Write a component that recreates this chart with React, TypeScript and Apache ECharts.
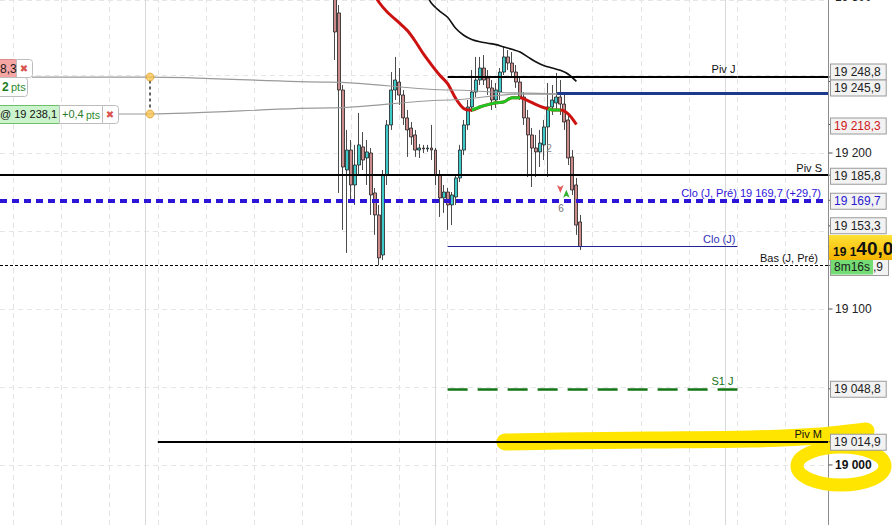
import { useEffect, useRef } from 'react';
import * as echarts from 'echarts';

// ---- axes extents (bar index on x, price on y) ----
const X_MIN = -3.2;
const X_MAX = 202.5;
const Y_MIN = 18961.5;
const Y_MAX = 19298.1;

// ---- candles (bar index starts at FIRST_BAR) ----
const FIRST_BAR = 80;
const opens = [
  19310.9, 19289.8, 19240.4, 19189.1, 19201.9, 19179.5, 19192.3, 19203.9, 19196.8, 19200.0,
  19174.4, 19160.3, 19134.6, 19185.9, 19218.0, 19240.4, 19245.5, 19237.2, 19222.5, 19216.0,
  19211.6, 19201.9, 19203.2, 19202.6, 19203.2, 19201.9, 19185.9, 19171.2, 19175.0, 19166.7,
  19171.8, 19184.0, 19201.9, 19218.0, 19229.5, 19239.1, 19246.8, 19254.5, 19248.1, 19241.7,
  19234.0, 19239.1, 19251.9, 19261.6, 19257.7, 19251.9, 19245.5, 19235.9, 19222.5, 19211.6,
  19203.2, 19200.7, 19205.2, 19216.7, 19229.5, 19232.1, 19235.9, 19231.4, 19221.2, 19197.5,
  19179.5, 19155.8,
];
const closes = [
  19277.6, 19240.4, 19191.0, 19201.9, 19179.5, 19192.3, 19205.2, 19195.5, 19200.7, 19173.1,
  19160.3, 19132.7, 19185.9, 19218.0, 19240.4, 19246.8, 19237.2, 19222.5, 19214.8, 19210.3,
  19201.9, 19203.2, 19202.6, 19203.2, 19201.9, 19185.9, 19171.2, 19175.0, 19166.7, 19173.1,
  19184.0, 19201.9, 19218.0, 19229.5, 19239.1, 19246.8, 19254.5, 19246.8, 19241.7, 19234.0,
  19240.4, 19251.9, 19261.6, 19257.7, 19251.9, 19245.5, 19235.9, 19222.5, 19211.6, 19203.2,
  19200.7, 19206.4, 19216.7, 19229.5, 19234.0, 19235.9, 19231.4, 19219.9, 19196.8, 19176.3,
  19153.8, 19140.0,
];
const lows = [
  19259.6, 19174.4, 19150.7, 19135.9, 19169.9, 19166.7, 19185.9, 19189.1, 19179.5, 19160.3,
  19147.5, 19127.9, 19131.4, 19179.5, 19214.8, 19234.0, 19230.8, 19218.0, 19197.5, 19205.2,
  19197.5, 19196.8, 19200.0, 19200.7, 19195.5, 19179.5, 19159.0, 19161.6, 19150.7, 19153.8,
  19166.7, 19181.4, 19198.7, 19214.8, 19226.3, 19235.9, 19243.6, 19243.6, 19237.2, 19227.6,
  19228.9, 19234.0, 19250.0, 19253.2, 19248.1, 19241.7, 19234.0, 19218.0, 19184.6, 19178.2,
  19184.6, 19191.0, 19195.5, 19184.6, 19224.4, 19227.6, 19224.4, 19214.8, 19192.3, 19173.1,
  19147.5, 19137.8,
];
const highs = [
  19317.3, 19294.9, 19243.6, 19214.8, 19208.4, 19205.2, 19225.7, 19213.5, 19208.4, 19203.2,
  19177.6, 19166.7, 19189.1, 19221.2, 19251.9, 19261.6, 19254.5, 19240.4, 19227.6, 19219.9,
  19214.8, 19205.8, 19205.2, 19205.2, 19218.0, 19203.2, 19189.1, 19179.5, 19177.6, 19175.0,
  19185.9, 19205.2, 19221.2, 19234.0, 19253.2, 19261.6, 19261.6, 19262.8, 19253.2, 19246.8,
  19244.9, 19254.5, 19268.0, 19266.0, 19264.8, 19256.4, 19248.1, 19239.1, 19227.6, 19216.0,
  19211.6, 19214.8, 19221.2, 19244.9, 19243.6, 19251.3, 19246.8, 19237.2, 19224.4, 19201.9,
  19184.0, 19160.3,
];

// ---- moving averages ----
const redMaX = [89, 91, 93, 96, 98, 100, 102, 104, 106, 108, 110, 112, 114, 116, 118, 120, 122, 124, 126, 128, 130, 132, 133, 134, 136, 138, 140];
const redMaY = [19305.0, 19296.5, 19290.4, 19283.4, 19278.5, 19271.5, 19263.5, 19256.5, 19250.0, 19244.5, 19235.0, 19228.5, 19227.5, 19229.5, 19231.0, 19232.2, 19232.8, 19235.5, 19235.5, 19233.5, 19231.0, 19229.0, 19228.4, 19227.6, 19227.6, 19225.0, 19218.3];
const greenRanges = [[114, 126], [133, 136]];
const blackMaX = [102, 104, 106, 108, 110, 112, 114, 116, 118, 120, 122, 124, 126, 128, 130, 132, 134, 136, 138, 140];
const blackMaY = [19305.0, 19296.0, 19291.0, 19287.0, 19280.0, 19275.5, 19272.8, 19271.3, 19270.4, 19269.5, 19268.0, 19266.5, 19264.8, 19261.5, 19258.3, 19256.0, 19254.5, 19253.0, 19250.5, 19245.9];

// ---- order lines ----
const orderUpperX = [4.75, 34.07, 78.8, 108.6, 125.2, 135.2];
const orderUpperY = [19248.7, 19248.7, 19245.5, 19240.4, 19238.5, 19237.8];
const orderLowerX = [26.1, 34.07, 78.8, 108.6, 125.2, 135.2];
const orderLowerY = [19225.0, 19225.0, 19228.9, 19234.0, 19237.8, 19237.8];
const orderPrice = 19238.1;
const orderLineFrom = 135.2;

// ---- levels ----
const levelNames = ['Piv J', 'Piv S', 'Clo (J, Pré)', 'Clo (J)', 'Bas (J, Pré)', 'S1 J', 'Piv M'];
const levelValues = [19248.8, 19185.8, 19169.7, 19140.0, 19127.9, 19048.8, 19014.9];
const levelFrom = [108, X_MIN, X_MIN, 108, X_MIN, 108, 36];
const levelTo = [X_MAX, X_MAX, X_MAX, 180, X_MAX, 180, X_MAX];
const levelLabelAt = [180, X_MAX, X_MAX, 180, X_MAX, 180, X_MAX];

// ---- axis tags ----
const tagValues = [19248.8, 19245.9, 19218.3, 19185.8, 19169.7, 19153.3, 19048.8, 19014.9];
const axisValues = [19000, 19100, 19200];
const topAxisValue = 19300;
const lastPrice = 19140.0;
const timerText = '8m16s';

// ---- vertical grid ----
const hourLines = [0, 12, 24, 36, 48, 60, 72, 84, 96, 108, 120, 132, 144, 156, 168, 180, 192];
const dayLines = [33, 105, 177];

const FONT = '"Liberation Sans", Arial, sans-serif';

function fmt(v: number, dec = 1): string {
  const s = Math.abs(v).toFixed(dec);
  const [i, d] = s.split('.');
  const ii = i.replace(/\B(?=(\d{3})+(?!\d))/g, ' ');
  return (v < 0 ? '-' : '') + (d ? ii + ',' + d : ii);
}

const levelStyles: any[] = [
  { line: { color: '#000', width: 2, type: 'solid' }, color: '#111', gap: 2 },
  { line: { color: '#000', width: 2, type: 'solid' }, color: '#111', gap: 6 },
  { line: { color: '#2d14d9', width: 4, type: [7, 5] }, color: '#2d14d9', gap: 7 },
  { line: { color: '#22229a', width: 1, type: 'solid' }, color: '#3030b8', gap: 2 },
  { line: { color: '#000', width: 1, type: [3, 2] }, color: '#111', gap: 10 },
  { line: { color: '#157515', width: 2.5, type: [20, 10] }, color: '#157515', gap: 4 },
  { line: { color: '#000', width: 2, type: 'solid' }, color: '#111', gap: 6 },
];
const tagColors = ['#222', '#222', '#d01818', '#222', '#2a1ad0', '#222', '#222', '#222'];
const tagDy = [-5, 6.5, 1.5, 1, 1, 0, 0.5, 0.5];

export default function App() {
  const ref = useRef<HTMLDivElement>(null);
  useEffect(() => {
    if (!ref.current) return;
    const chart = echarts.init(ref.current, undefined, { renderer: 'svg' });

    const candleData = opens.map((o, i) => [FIRST_BAR + i, o, closes[i], lows[i], highs[i]]);
    const redData = redMaX.map((x, i) => [x, redMaY[i]]);
    const greenSeries = greenRanges.map(([a, b]) => ({
      type: 'line',
      data: redData.filter((p) => p[0] >= a && p[0] <= b),
      smooth: 0.3,
      showSymbol: false,
      lineStyle: { color: '#22c422', width: 3 },
      z: 4,
      silent: true,
    }));

    const levelLines: any[] = [];
    levelNames.forEach((name, i) => {
      const st = levelStyles[i];
      const v = levelValues[i];
      const text = i === 2 ? `${name} ${fmt(v)} (+${fmt(v - lastPrice)})` : name;
      const at = levelLabelAt[i];
      levelLines.push([
        {
          coord: [levelFrom[i], v],
          lineStyle: st.line,
          label: {
            show: true,
            position: 'insideEndTop',
            formatter: text,
            color: st.color,
            fontSize: 11,
            fontFamily: FONT,
            distance: [st.gap, 2],
          },
        },
        { coord: [at, v] },
      ]);
      if (at < levelTo[i]) {
        levelLines.push([
          { coord: [at, v], lineStyle: st.line, label: { show: false } },
          { coord: [levelTo[i], v] },
        ]);
      }
    });
    levelLines.push([
      { coord: [orderLineFrom, orderPrice], lineStyle: { color: '#1c3a8c', width: 3, type: 'solid' }, label: { show: false } },
      { coord: [X_MAX, orderPrice] },
    ]);

    // small tick marks on the right of the price axis
    const tickValues = [...axisValues, ...tagValues, levelValues[4], lastPrice];
    const tickPoints: any[] = tickValues.map((v) => ({
      coord: [X_MAX, v],
      symbol: 'rect',
      symbolSize: [4, 1],
      symbolOffset: [2.5, 0],
      itemStyle: { color: '#555' },
      label: { show: false },
    }));

    const tagPoints: any[] = tagValues.map((v, i) => ({
      coord: [X_MAX, v],
      symbol: 'rect',
      symbolSize: 0,
      label: {
        show: true,
        position: 'right',
        distance: 3,
        offset: [0, tagDy[i]],
        formatter: fmt(v),
        color: tagColors[i],
        fontSize: 12,
        fontFamily: FONT,
        backgroundColor: '#f2f2f2',
        borderColor: '#9a9a9a',
        borderWidth: 1,
        padding: [1, 5, 0, 3],
        lineHeight: 14,
      },
    }));
    // timer box laid over the "Bas (J, Pré)" value tag (only its last digits stay visible)
    const basText = fmt(levelValues[4]);
    tagPoints.push({
      coord: [X_MAX, levelValues[4]],
      symbol: 'rect',
      symbolSize: 0,
      label: {
        show: true,
        position: 'right',
        distance: 3,
        offset: [0, 1.5],
        formatter: `{g|${timerText}}{n|${basText.slice(-2)}}`,
        backgroundColor: '#f2f2f2',
        borderColor: '#9a9a9a',
        borderWidth: 1,
        padding: [0, 5, 0, 0],
        rich: {
          g: { backgroundColor: '#74dc74', color: '#1a1a1a', fontSize: 12, fontFamily: FONT, padding: [2, 3, 1, 3], lineHeight: 16 },
          n: { color: '#222', fontSize: 12, fontFamily: FONT, lineHeight: 16 },
        },
      },
    });
    tagPoints.push({
      coord: [X_MAX, lastPrice],
      symbol: 'rect',
      symbolSize: 0,
      label: {
        show: true,
        position: 'right',
        distance: 1,
        offset: [0, 1],
        formatter: () => {
          const s = fmt(lastPrice);
          return `{a|${s.slice(0, 4)}}{b|${s.slice(4)}}`;
        },
        backgroundColor: new echarts.graphic.LinearGradient(0, 0, 0, 1, [
          { offset: 0, color: '#ffe135' },
          { offset: 1, color: '#f4b400' },
        ]),
        padding: [3, 8, 2, 4],
        rich: {
          a: { fontSize: 12, fontWeight: 'bold', color: '#111', fontFamily: FONT, verticalAlign: 'bottom', lineHeight: 20 },
          b: { fontSize: 19, fontWeight: 'bold', color: '#111', fontFamily: FONT, lineHeight: 20 },
        },
      },
    });
    // partially visible top axis value
    tagPoints.push({
      coord: [X_MAX, Y_MAX],
      symbol: 'rect',
      symbolSize: 0,
      label: {
        show: true,
        position: 'right',
        distance: 7,
        offset: [0, -3],
        formatter: fmt(topAxisValue, 0),
        color: '#222',
        fontSize: 12,
        fontFamily: FONT,
      },
    });
    // trade markers
    tagPoints.push({ coord: [136, 19174.4], symbol: 'arrow', symbolSize: [5, 8], symbolRotate: 180, itemStyle: { color: '#e35b5b' }, label: { show: false } });
    tagPoints.push({ coord: [137.5, 19176.5], symbol: 'arrow', symbolSize: [5, 8], itemStyle: { color: '#2fb02f' }, label: { show: false } });
    tagPoints.push({ coord: [136.2, 19164.5], symbol: 'rect', symbolSize: 0, label: { show: true, position: 'inside', formatter: '6', color: '#777', fontSize: 10, fontFamily: FONT } });
    tagPoints.push({ coord: [133.2, 19203.0], symbol: 'rect', symbolSize: 0, label: { show: true, position: 'inside', formatter: '2', color: '#888', fontSize: 10, fontFamily: FONT } });

    const gridLines: any[] = [
      ...hourLines.map((x) => ({ xAxis: x })),
      ...dayLines.map((x) => ({ xAxis: x, lineStyle: { color: '#d9d9d9', type: 'solid', width: 1 } })),
    ];

    const txt = (x: number, y: number, text: string, font: string, fill: string, align = 'left') => ({
      type: 'text',
      x,
      y,
      z: 11,
      silent: true,
      style: { text, font, fill, align, verticalAlign: 'middle', textAlign: align, textVerticalAlign: 'middle' },
    });
    const box = (x: number, y: number, w: number, h: number, fill: string, stroke: string, r: any = 3) => ({
      type: 'rect',
      z: 10,
      silent: true,
      shape: { x: x + 0.5, y: y + 0.5, width: w, height: h, r },
      style: { fill, stroke, lineWidth: 1 },
    });

    const option: any = {
      animation: false,
      textStyle: { fontFamily: FONT },
      grid: { left: 0, right: 64, top: 0, bottom: 0 },
      xAxis: {
        type: 'value',
        min: X_MIN,
        max: X_MAX,
        show: false,
        splitLine: { show: false },
        axisLine: { onZero: false },
      },
      yAxis: {
        type: 'value',
        position: 'right',
        min: Y_MIN,
        max: Y_MAX,
        splitNumber: 7,
        scale: true,
        axisLine: { show: true, onZero: false, lineStyle: { color: '#8c8c8c', width: 1 } },
        axisTick: { show: false },
        axisLabel: {
          show: true,
          margin: 7,
          color: '#222',
          fontSize: 12,
          fontFamily: FONT,
          customValues: axisValues,
          formatter: (v: number) => {
            if (Math.abs(v % 100) > 0.01) return '';
            return v === 19000 ? `{b|${fmt(v, 0)}}` : fmt(v, 0);
          },
          rich: { b: { fontWeight: 'bold', fontSize: 12, color: '#111', fontFamily: FONT } },
        },
        splitLine: { show: true, lineStyle: { color: '#e6e6e6', type: [5, 4], width: 1 } },
      },
      graphic: {
        elements: [
          // yellow freehand highlight
          {
            type: 'polyline',
            z: 1.5,
            silent: true,
            shape: { points: [[505, 442], [560, 441], [650, 440], [750, 439], [820, 436], [866, 431]], smooth: 0.3 },
            style: { stroke: '#ffe500', lineWidth: 17, lineCap: 'round', fill: null },
          },
          {
            type: 'ellipse',
            z: 1.5,
            silent: true,
            shape: { cx: 841, cy: 466, rx: 44, ry: 19 },
            style: { stroke: '#ffe500', lineWidth: 13, fill: null },
          },
          // order boxes on the left
          box(-6, 59, 22, 18, '#f6a5a5', '#df8a8a', 2),
          txt(0, 68.5, '8,3', '12px "Liberation Sans", Arial', '#1a1a1a'),
          box(16, 59, 16, 18, '#ffffff', '#bdbdbd', [0, 3, 3, 0]),
          txt(24, 68.5, '✖', '10px "DejaVu Sans"', '#d9534f', 'center'),
          box(-6, 77, 33, 19, '#ffffff', '#bdbdbd', 3),
          txt(2, 86.5, '2', 'bold 12px "Liberation Sans", Arial', '#1e7d1e'),
          txt(11, 87, 'pts', '11px "Liberation Sans", Arial', '#2e8b2e'),
          box(-6, 105, 65, 18, '#ccf4cc', '#6cc06c', 0),
          txt(0, 114, '@ 19 238,1', '11px "Liberation Sans", Arial', '#111'),
          box(59, 105, 43, 18, '#ffffff', '#bdbdbd', 0),
          txt(62, 114, '+0,4', '11px "Liberation Sans", Arial', '#2a7a2a'),
          txt(86, 115, 'pts', '10.5px "Liberation Sans", Arial', '#2e8b2e'),
          box(102, 105, 16, 18, '#ffffff', '#bdbdbd', [0, 3, 3, 0]),
          txt(110, 114, '✖', '10px "DejaVu Sans"', '#d9534f', 'center'),
        ],
      },
      series: [
        {
          type: 'candlestick',
          name: 'price',
          data: candleData,
          encode: { x: 0, y: [1, 2, 3, 4] },
          barWidth: 3.4,
          z: 2,
          silent: true,
          itemStyle: {
            color: '#3fcaca',
            color0: '#cc8b8b',
            borderColor: '#1e1e1e',
            borderColor0: '#1e1e1e',
            borderWidth: 0.8,
          },
          markLine: {
            silent: true,
            symbol: ['none', 'none'],
            z: 5,
            data: levelLines,
          },
          markPoint: {
            silent: true,
            z: 5,
            data: tickPoints,
          },
        },
        {
          type: 'line',
          name: 'MA red',
          data: redData,
          smooth: 0.3,
          showSymbol: false,
          lineStyle: { color: '#cc1111', width: 3 },
          z: 3,
          silent: true,
        },
        ...greenSeries,
        {
          type: 'line',
          name: 'MA black',
          data: blackMaX.map((x, i) => [x, blackMaY[i]]),
          smooth: 0.3,
          showSymbol: false,
          lineStyle: { color: '#111', width: 1.6 },
          z: 3,
          silent: true,
          markLine: {
            silent: true,
            symbol: ['none', 'none'],
            z: 1,
            label: { show: false },
            lineStyle: { color: '#e4e4e4', type: [5, 4], width: 1 },
            data: gridLines,
          },
          markPoint: {
            silent: true,
            z: 6,
            data: tagPoints,
          },
        },
        {
          type: 'line',
          name: 'order upper',
          data: orderUpperX.map((x, i) => [x, orderUpperY[i]]),
          smooth: 0.3,
          smoothMonotone: 'x',
          showSymbol: false,
          lineStyle: { color: '#9a9a9a', width: 1.2 },
          z: 3,
          silent: true,
        },
        {
          type: 'line',
          name: 'order lower',
          data: orderLowerX.map((x, i) => [x, orderLowerY[i]]),
          smooth: 0.3,
          smoothMonotone: 'x',
          showSymbol: false,
          lineStyle: { color: '#9a9a9a', width: 1.2 },
          z: 3,
          silent: true,
        },
        {
          type: 'line',
          name: 'order link',
          data: [
            [orderUpperX[1], orderUpperY[1] - 2.2],
            [orderLowerX[1], orderLowerY[1] + 2.2],
          ],
          showSymbol: false,
          lineStyle: { color: '#111', width: 1.3, type: [3, 3] },
          z: 3,
          silent: true,
        },
        {
          type: 'scatter',
          name: 'order handles',
          data: [
            [orderUpperX[1], orderUpperY[1]],
            [orderLowerX[1], orderLowerY[1]],
          ],
          symbolSize: 8,
          itemStyle: { color: '#f8c451', borderColor: '#e3a32a', borderWidth: 1 },
          z: 6,
          silent: true,
        },
      ],
    };

    chart.setOption(option);
    return () => chart.dispose();
  }, []);

  return (
    <div
      ref={ref}
      style={{ position: 'absolute', left: 0, top: 0, width: 892, height: 525, background: '#fff' }}
    />
  );
}
